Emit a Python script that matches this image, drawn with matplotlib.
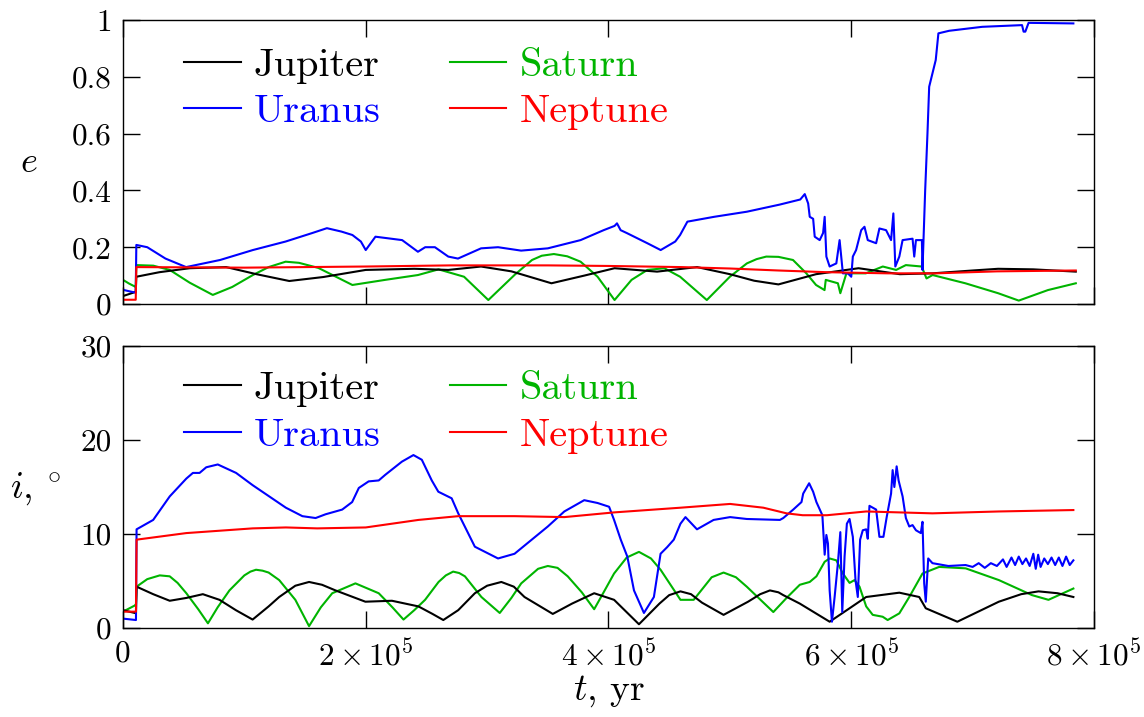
import matplotlib
matplotlib.use("Agg")
import matplotlib.pyplot as plt
from matplotlib.ticker import FixedLocator, FuncFormatter
import numpy as np

plt.rcParams['font.family'] = ['cmr10', 'DejaVu Serif']
plt.rcParams['mathtext.fontset'] = 'cm'
plt.rcParams['axes.unicode_minus'] = False
plt.rcParams['axes.formatter.use_mathtext'] = True

# ---------------- data (time in units of 1e5 yr) ----------------
planets = ["Jupiter", "Saturn", "Uranus", "Neptune"]
colors = ["#000000", "#00b400", "#0000ff", "#ff0000"]

# eccentricity
t_e_jup = [0, 0.05, 0.105, 0.11, 0.3, 0.55, 0.85, 1.1, 1.37, 1.65, 2.0, 2.4, 2.68, 2.95, 3.2, 3.53, 3.8, 4.05, 4.4, 4.73,
           5.0, 5.2, 5.4, 5.71, 6.06, 6.4, 6.67, 7.0, 7.21, 7.5, 7.85]
e_jup = [0.028, 0.035, 0.043, 0.096, 0.112, 0.126, 0.13, 0.105, 0.081, 0.095, 0.12, 0.124, 0.12, 0.132, 0.115, 0.073, 0.1, 0.126, 0.114, 0.13,
         0.105, 0.082, 0.069, 0.105, 0.126, 0.105, 0.108, 0.118, 0.124, 0.122, 0.114]

t_e_sat = [0, 0.05, 0.105, 0.11, 0.25, 0.385, 0.55, 0.74, 0.9, 1.07,
           1.2, 1.34, 1.45, 1.61, 1.89, 2.16, 2.43, 2.6, 2.81, 3.01, 3.23,
           3.37, 3.45, 3.55, 3.66, 3.77, 3.91, 4.05, 4.19, 4.32, 4.46, 4.59, 4.81,
           5.0, 5.14, 5.22, 5.3, 5.4, 5.52, 5.63, 5.71, 5.78, 5.79, 5.89, 5.91,
           5.96, 6.12, 6.26, 6.37, 6.45, 6.58, 6.62, 6.67, 6.94, 7.21,
           7.38, 7.62, 7.85]
e_sat = [0.085, 0.072, 0.06, 0.137, 0.135, 0.12, 0.075, 0.032, 0.06, 0.102,
         0.13, 0.149, 0.145, 0.127, 0.067, 0.085, 0.102, 0.122, 0.096, 0.014, 0.104,
         0.155, 0.17, 0.176, 0.168, 0.149, 0.096, 0.014, 0.085, 0.12, 0.126, 0.096, 0.014,
         0.096, 0.143, 0.158, 0.167, 0.166, 0.155, 0.108, 0.067, 0.049, 0.085, 0.073, 0.038,
         0.108, 0.108, 0.132, 0.12, 0.137, 0.132, 0.09, 0.102, 0.073, 0.038,
         0.012, 0.049, 0.073]

t_e_ura = [0, 0.05, 0.105, 0.11, 0.2, 0.35, 0.52, 0.8, 1.07, 1.34,
           1.56, 1.68, 1.8, 1.89, 1.96, 2.0, 2.08, 2.3, 2.43, 2.49,
           2.57, 2.68, 2.76, 2.95, 3.09, 3.28, 3.5, 3.77, 3.96, 4.05,
           4.07, 4.1, 4.15, 4.32, 4.43, 4.55, 4.59, 4.65, 4.87, 5.14,
           5.41, 5.58, 5.617, 5.645, 5.658, 5.686, 5.699, 5.74, 5.768, 5.781,
           5.795, 5.822, 5.877, 5.904, 5.931, 5.972, 6.0, 6.013, 6.04, 6.082,
           6.109, 6.136, 6.205, 6.232, 6.287, 6.328, 6.347, 6.363, 6.396, 6.423,
           6.505, 6.519, 6.533, 6.582, 6.587, 6.609, 6.628, 6.642, 6.669, 6.696,
           6.718, 6.806, 7.079, 7.407, 7.42, 7.434, 7.461, 7.83]
e_ura = [0.05, 0.045, 0.04, 0.208, 0.2, 0.16, 0.13, 0.155, 0.19, 0.22,
         0.25, 0.267, 0.255, 0.243, 0.22, 0.19, 0.237, 0.225, 0.184, 0.2,
         0.2, 0.167, 0.16, 0.196, 0.2, 0.188, 0.196, 0.225, 0.26, 0.275,
         0.284, 0.26, 0.25, 0.214, 0.19, 0.22, 0.243, 0.29, 0.307, 0.325,
         0.35, 0.368, 0.387, 0.354, 0.307, 0.30, 0.237, 0.225, 0.25, 0.307,
         0.167, 0.132, 0.143, 0.225, 0.108, 0.108, 0.096, 0.167, 0.19, 0.26,
         0.272, 0.225, 0.214, 0.266, 0.26, 0.225, 0.319, 0.132, 0.167, 0.225,
         0.23, 0.167, 0.225, 0.225, 0.12, 0.40, 0.601, 0.765, 0.812, 0.859,
         0.953, 0.962, 0.976, 0.982, 0.959, 0.959, 0.99, 0.988]

t_e_nep = [0, 0.105, 0.11, 1.0, 2.0, 2.7, 3.5, 4.0, 4.6, 5.0, 5.4, 5.8, 6.3, 6.7, 7.2, 7.85]
e_nep = [0.015, 0.015, 0.13, 0.128, 0.132, 0.136, 0.136, 0.134, 0.13, 0.125, 0.118, 0.112, 0.108, 0.108, 0.115, 0.118]

# inclination (degrees)
t_i_jup = [0, 0.098, 0.107, 0.112, 0.249, 0.385, 0.522, 0.658, 0.795, 0.93,
           1.068, 1.2, 1.287, 1.42, 1.533, 1.64, 1.751, 1.997, 2.216, 2.434, 2.55, 2.639,
           2.762, 2.899, 3.0, 3.117, 3.22, 3.308, 3.541, 3.7, 3.882, 4.046, 4.251, 4.42,
           4.5, 4.593, 4.68, 4.77, 4.948, 5.15, 5.25, 5.33, 5.4, 5.44, 5.576, 5.822, 5.986, 6.123,
           6.396, 6.56, 6.614, 6.874, 7.216, 7.4, 7.543, 7.7, 7.83]
i_jup = [1.9, 1.6, 1.6, 4.4, 3.6, 2.9, 3.2, 3.6, 3.0, 1.9,
         0.9, 2.3, 3.3, 4.5, 4.9, 4.6, 4.0, 2.8, 2.9, 2.3, 1.5, 0.85,
         1.9, 3.7, 4.5, 4.9, 4.4, 3.3, 1.5, 2.6, 3.7, 3.0, 0.4, 2.6,
         3.5, 3.9, 3.6, 2.7, 1.4, 2.8, 3.6, 4.0, 3.8, 3.5, 2.6, 0.67, 2.1, 3.3,
         3.76, 3.3, 2.1, 0.67, 2.8, 3.6, 3.9, 3.7, 3.3]

t_i_sat = [0, 0.098, 0.107, 0.112, 0.2, 0.303, 0.385, 0.45, 0.522, 0.62, 0.7,
           0.78, 0.877, 1.0, 1.05, 1.096, 1.15, 1.2, 1.287, 1.42, 1.533, 1.63, 1.724,
           1.915, 2.107, 2.22, 2.311, 2.4, 2.489, 2.6, 2.66, 2.72, 2.77, 2.817, 2.953,
           3.104, 3.2, 3.281, 3.42, 3.5, 3.58, 3.664, 3.78, 3.882, 3.96, 4.046, 4.15, 4.251, 4.35,
           4.429, 4.593, 4.702, 4.85, 4.948, 5.05, 5.139, 5.358, 5.467, 5.576, 5.658, 5.713,
           5.781, 5.822, 5.877, 5.931, 5.986, 6.027, 6.068, 6.123, 6.177, 6.259,
           6.3, 6.396, 6.478, 6.587, 6.724, 6.942, 7.216, 7.489, 7.625, 7.83]
i_sat = [1.74, 2.4, 2.55, 4.4, 5.2, 5.6, 5.5, 4.8, 3.7, 2.0, 0.5,
         2.2, 4.0, 5.6, 6.0, 6.2, 6.1, 5.9, 5.1, 3.0, 0.2, 2.2, 3.7,
         4.75, 3.7, 2.2, 0.9, 1.9, 3.0, 4.9, 5.6, 6.0, 5.85, 5.5, 3.3,
         1.6, 3.2, 4.75, 6.3, 6.6, 6.4, 5.5, 3.8, 2.0, 3.8, 5.8, 7.5, 8.1, 7.4,
         6.2, 3.0, 3.0, 5.4, 5.9, 5.4, 4.4, 1.7, 3.2, 4.6, 4.9, 5.5,
         7.05, 7.4, 7.2, 5.8, 4.8, 5.1, 4.4, 2.3, 1.4, 1.2,
         0.85, 1.56, 3.3, 5.8, 6.5, 6.35, 5.1, 3.5, 3.0, 4.2]

t_i_ura = [0, 0.1, 0.107, 0.112, 0.249, 0.385, 0.522, 0.576, 0.631, 0.686,
           0.781, 0.932, 1.068, 1.205, 1.342, 1.478, 1.587, 1.669, 1.806, 1.888,
           1.943, 2.024, 2.107, 2.161, 2.298, 2.393, 2.462, 2.544, 2.598, 2.708,
           2.762, 2.899, 3.09, 3.226, 3.5, 3.636, 3.8, 3.91, 4.005, 4.046,
           4.101, 4.155, 4.21, 4.292, 4.374, 4.429, 4.483, 4.538, 4.593, 4.634,
           4.729, 4.866, 5.002, 5.139, 5.412, 5.44, 5.522, 5.59, 5.604, 5.653,
           5.686, 5.713, 5.762, 5.781, 5.795, 5.808, 5.822, 5.841, 5.863, 5.89,
           5.91, 5.926, 5.945, 5.964, 5.986, 6.013, 6.035, 6.054, 6.073, 6.095,
           6.123, 6.136, 6.15, 6.205, 6.232, 6.265, 6.292, 6.328, 6.341, 6.355,
           6.374, 6.39, 6.423, 6.45, 6.478, 6.505, 6.533, 6.573, 6.587, 6.601,
           6.614, 6.634, 6.669,
           6.8, 6.942, 7.0, 7.05, 7.1, 7.15, 7.2, 7.25, 7.28, 7.32,
           7.35, 7.38, 7.41, 7.44, 7.47, 7.5, 7.52, 7.54, 7.56, 7.59,
           7.62, 7.65, 7.68, 7.71, 7.74, 7.77, 7.8, 7.83]
i_ura = [1.0, 0.85, 0.85, 10.5, 11.5, 14.0, 15.9, 16.5, 16.5, 17.1,
         17.4, 16.5, 15.2, 14.0, 12.8, 11.9, 11.7, 12.1, 12.6, 13.4,
         14.9, 15.6, 15.7, 16.3, 17.7, 18.4, 17.9, 15.7, 14.5, 13.8,
         12.2, 8.65, 7.4, 7.9, 10.8, 12.4, 13.6, 13.3, 12.9, 11.5,
         9.4, 7.6, 4.0, 1.6, 3.3, 7.9, 8.6, 9.4, 11.1, 11.8,
         10.5, 11.5, 11.8, 11.6, 11.5, 11.7, 12.6, 13.4, 14.3, 15.4,
         14.5, 13.4, 12.0, 7.8, 9.9, 9.0, 4.0, 0.67, 3.3, 6.9,
         10.2, 1.7, 7.6, 11.1, 11.6, 9.7, 5.1, 3.3, 9.4, 10.4,
         10.5, 9.5, 13.0, 12.6, 9.7, 9.7, 11.8, 14.3, 16.8, 15.0,
         17.2, 15.7, 14.0, 11.7, 10.8, 10.95, 10.4, 10.1, 11.3, 4.75,
         2.8, 7.4, 6.9,
         6.6, 6.7, 6.5, 6.9, 6.4, 6.9, 6.6, 7.3, 6.5, 7.5,
         6.7, 7.6, 6.8, 7.4, 6.6, 7.9, 6.3, 7.8, 6.5, 7.4,
         6.8, 7.5, 6.7, 7.5, 6.6, 7.6, 6.7, 7.2]

t_i_nep = [0, 0.107, 0.112, 0.522, 1.068, 1.342, 1.6, 2.0, 2.434, 2.762, 3.226, 3.636, 4.046, 4.593, 5.002, 5.276, 5.467, 5.6, 5.8, 6.123, 6.669, 7.216, 7.83]
i_nep = [1.74, 1.74, 9.4, 10.1, 10.6, 10.7, 10.6, 10.7, 11.5, 11.9, 11.9, 11.8, 12.3, 12.8, 13.2, 12.8, 12.2, 12.0, 12.0, 12.4, 12.2, 12.4, 12.55]

x_ticks = [0, 2e5, 4e5, 6e5, 8e5]
e_ticks = [0, 0.2, 0.4, 0.6, 0.8, 1.0]
e_ticklabels = ["0", "0.2", "0.4", "0.6", "0.8", "1"]
i_ticks = [0, 10, 20, 30]

# ---------------- figure ----------------
fig = plt.figure(figsize=(11.44, 7.17), dpi=100)
ax1 = fig.add_axes([0.1075, 0.576, 0.8488, 0.3961])
ax2 = fig.add_axes([0.1075, 0.1241, 0.8488, 0.3933])

e_series = [(t_e_jup, e_jup), (t_e_sat, e_sat), (t_e_ura, e_ura), (t_e_nep, e_nep)]
i_series = [(t_i_jup, i_jup), (t_i_sat, i_sat), (t_i_ura, i_ura), (t_i_nep, i_nep)]

for ax, series, ly in ((ax1, e_series, 0.903), (ax2, i_series, 0.912)):
    lines = {}
    for k in [1, 0, 2, 3]:
        t, v = series[k]
        ln, = ax.plot(np.array(t) * 1e5, v, color=colors[k], lw=1.5, label=planets[k])
        lines[k] = ln
    handles = [lines[0], lines[2], lines[1], lines[3]]
    labels = [planets[0], planets[2], planets[1], planets[3]]
    ax.legend(handles, labels, ncol=2, frameon=False, fontsize=29,
              loc='upper left', bbox_to_anchor=(0.063, ly),
              borderaxespad=0, borderpad=0, handlelength=1.41,
              handletextpad=0.32, columnspacing=1.71, labelspacing=0.26,
              labelcolor='linecolor')

for ax in (ax1, ax2):
    ax.set_xlim(0, 8e5)
    ax.xaxis.set_major_locator(FixedLocator(x_ticks))
    ax.tick_params(direction='in', length=12, width=1.0, top=True, right=True,
                   labelsize=22.5, pad=8)
    for s in ax.spines.values():
        s.set_linewidth(1.0)

ax1.set_ylim(0, 1)
ax1.yaxis.set_major_locator(FixedLocator(e_ticks))
ax1.set_yticklabels(e_ticklabels)
ax1.tick_params(labelbottom=False)

ax2.set_ylim(0, 30)
ax2.yaxis.set_major_locator(FixedLocator(i_ticks))
ax2.set_yticklabels([str(v) for v in i_ticks])


def xfmt(v, pos):
    if v == 0:
        return "0"
    return r"$%d\times10^5$" % round(v / 1e5)


ax2.xaxis.set_major_formatter(FuncFormatter(xfmt))

fig.text(0.0255, 0.773, r"$e$", fontsize=26, ha='center', va='center')
fig.text(0.031, 0.318, r"$i$, $^{\circ}$", fontsize=27, ha='center', va='center')
fig.text(0.532, 0.036, r"$t$, yr", fontsize=27, ha='center', va='center')

fig.savefig("out.png", dpi=100)
